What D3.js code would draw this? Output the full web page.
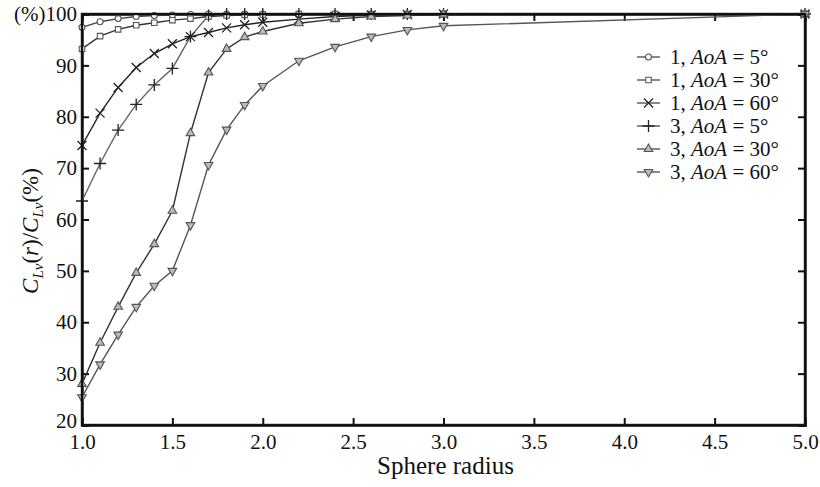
<!DOCTYPE html>
<html>
<head>
<meta charset="utf-8">
<script src="https://cdn.jsdelivr.net/npm/d3@7/dist/d3.min.js"></script>
<style>
  html, body { margin: 0; padding: 0; background: #fff; }
  svg { display: block; }
</style>
</head>
<body>
<svg id="chart" width="820" height="487"></svg>
<script>
// Sphere radius samples shared by every series
const radius = [1.0, 1.1, 1.2, 1.3, 1.4, 1.5, 1.6, 1.7, 1.8, 1.9, 2.0, 2.2, 2.4, 2.6, 2.8, 3.0, 5.0];

// C_Lv(r)/C_Lv in percent, one array per case
const s1aoa5  = [97.4, 98.5, 99.1, 99.5, 99.7, 99.8, 99.9, 100, 100, 100, 100, 100, 100, 100, 100, 100, 100];
const s1aoa30 = [93.2, 95.7, 97.0, 97.8, 98.3, 98.8, 99.1, 99.5, 99.7, 99.8, 99.9, 100, 100, 100, 100, 100, 100];
const s1aoa60 = [74.4, 80.7, 85.7, 89.6, 92.3, 94.2, 95.6, 96.4, 97.3, 97.9, 98.4, 99.0, 99.5, 99.8, 99.9, 100, 100];
const s3aoa5  = [63.6, 70.9, 77.4, 82.4, 86.2, 89.4, 95.6, 99.7, 100, 100, 100, 100, 100, 100, 100, 100, 100];
const s3aoa30 = [28.0, 36.0, 43.0, 49.6, 55.2, 61.7, 76.8, 88.6, 93.2, 95.5, 96.6, 98.2, 99.0, 99.5, 99.7, 99.9, 100];
const s3aoa60 = [25.4, 31.8, 37.6, 43.0, 47.1, 50.0, 58.9, 70.6, 77.5, 82.3, 86.0, 90.9, 93.6, 95.6, 96.9, 97.7, 100];

const seriesNames = ["1", "1", "1", "3", "3", "3"];
const seriesAoA = ["5°", "30°", "60°", "5°", "30°", "60°"];
const seriesValues = [s1aoa5, s1aoa30, s1aoa60, s3aoa5, s3aoa30, s3aoa60];
const seriesMarkers = ["circle", "square", "cross", "plus", "triUp", "triDown"];
const seriesLine = ["#444", "#333", "#222", "#666", "#333", "#555"];

const xTicks = [1.0, 1.5, 2.0, 2.5, 3.0, 3.5, 4.0, 4.5, 5.0];
const yTicks = [20, 30, 40, 50, 60, 70, 80, 90, 100];

const SERIF = "'Liberation Serif', 'Times New Roman', Tinos, 'DejaVu Serif', serif";

const svg = d3.select("#chart");
const mLeft = 82, mRight = 805, mTop = 14, mBottom = 425;

const x = d3.scaleLinear().domain([1, 5]).range([mLeft, mRight]);
const y = d3.scaleLinear().domain([20, 100]).range([mBottom, mTop]);

// Axes: ticks point inward on all four sides
const fmtX = d3.format(".1f");
svg.append("g")
  .attr("transform", `translate(0,${mBottom})`)
  .call(d3.axisBottom(x).tickValues(xTicks).tickSize(-7).tickPadding(9).tickFormat(fmtX));
svg.append("g")
  .attr("transform", `translate(0,${mTop})`)
  .call(d3.axisTop(x).tickValues(xTicks).tickSize(-7).tickFormat(""));
const yAxisG = svg.append("g")
  .attr("transform", `translate(${mLeft},0)`)
  .call(d3.axisLeft(y).tickValues(yTicks).tickSize(-7).tickPadding(5)
    .tickFormat(d => d === 100 ? "(%)100" : String(d)));
svg.append("g")
  .attr("transform", `translate(${mRight},0)`)
  .call(d3.axisRight(y).tickValues(yTicks).tickSize(-7).tickFormat(""));

svg.selectAll(".domain").attr("stroke", "#111").attr("stroke-width", 2.4);
svg.selectAll(".tick line").attr("stroke", "#111").attr("stroke-width", 2);
svg.selectAll(".tick text").attr("font-size", 21).attr("fill", "#111");
// lowest y label sits a touch higher so it clears the first x label
yAxisG.selectAll(".tick text").filter(d => d === 20).attr("dy", "0.12em");

// Marker shapes
const sym = {
  circle: d3.symbol().type(d3.symbolCircle).size(28),
  square: d3.symbol().type(d3.symbolSquare).size(30),
  triUp: d3.symbol().type(d3.symbolTriangle).size(32),
  triDown: d3.symbol().type(d3.symbolTriangle).size(32)
};
function drawMarker(g, kind, cx, cy) {
  const isLine = kind === "cross" || kind === "plus";
  const rot = kind === "triDown" ? " rotate(180)" : "";
  let p;
  if (kind === "plus") {
    p = g.append("path").attr("d", "M-6,0H6M0,-6V6");
  } else if (kind === "cross") {
    p = g.append("path").attr("d", "M-4.5,-4.5L4.5,4.5M-4.5,4.5L4.5,-4.5");
  } else {
    p = g.append("path").attr("d", sym[kind]());
  }
  p.attr("transform", `translate(${cx},${cy})${rot}`)
    .attr("fill", isLine ? "none" : (kind.startsWith("tri") ? "#bbb" : "#fff"))
    .attr("stroke", isLine ? "#222" : "#555")
    .attr("stroke-width", isLine ? 1.3 : 1.1);
}

const line = d3.line().x(d => x(d[0])).y(d => y(d[1]));
const plot = svg.append("g");

seriesValues.forEach((vals, i) => {
  const pts = radius.map((r, j) => [r, vals[j]]);
  plot.append("path")
    .attr("d", line(pts))
    .attr("fill", "none")
    .attr("stroke", seriesLine[i])
    .attr("stroke-width", 1.4);
});
seriesValues.forEach((vals, i) => {
  const g = plot.append("g");
  radius.forEach((r, j) => drawMarker(g, seriesMarkers[i], x(r), y(vals[j])));
});

// Redraw frame on top of the marks
svg.append("rect")
  .attr("x", mLeft).attr("y", mTop)
  .attr("width", mRight - mLeft).attr("height", mBottom - mTop)
  .attr("fill", "none").attr("stroke", "#111").attr("stroke-width", 2.4);

// Legend
const lg = svg.append("g");
seriesValues.forEach((vals, i) => {
  const ly = 57 + i * 23;
  lg.append("line").attr("x1", 637).attr("x2", 660).attr("y1", ly).attr("y2", ly)
    .attr("stroke", "#555").attr("stroke-width", 1.4);
  drawMarker(lg, seriesMarkers[i], 648.5, ly);
  const t = lg.append("text").attr("x", 670).attr("y", ly + 7).attr("font-size", 21);
  t.append("tspan").text(seriesNames[i] + ", ");
  t.append("tspan").attr("font-style", "italic").text("AoA");
  t.append("tspan").text(" = " + seriesAoA[i]);
});

// Axis titles
svg.append("text")
  .attr("x", (mLeft + mRight) / 2 + 2).attr("y", 474)
  .attr("text-anchor", "middle").attr("font-size", 25)
  .text("Sphere radius");

const yl = svg.append("text")
  .attr("transform", "translate(38,231) rotate(-90)")
  .attr("text-anchor", "middle").attr("font-size", 23);
yl.append("tspan").attr("font-style", "italic").text("C");
yl.append("tspan").attr("font-style", "italic").attr("font-size", 15).attr("dy", 5).text("Lv");
yl.append("tspan").attr("dy", -5).text("(");
yl.append("tspan").attr("font-style", "italic").text("r");
yl.append("tspan").text(")/");
yl.append("tspan").attr("font-style", "italic").text("C");
yl.append("tspan").attr("font-style", "italic").attr("font-size", 15).attr("dy", 5).text("Lv");
yl.append("tspan").attr("dy", -5).text("(%)");

// Serif face for every label
svg.selectAll("text").style("font-family", SERIF).attr("fill", "#111");
svg.selectAll("g").attr("font-family", null);
</script>
</body>
</html>
